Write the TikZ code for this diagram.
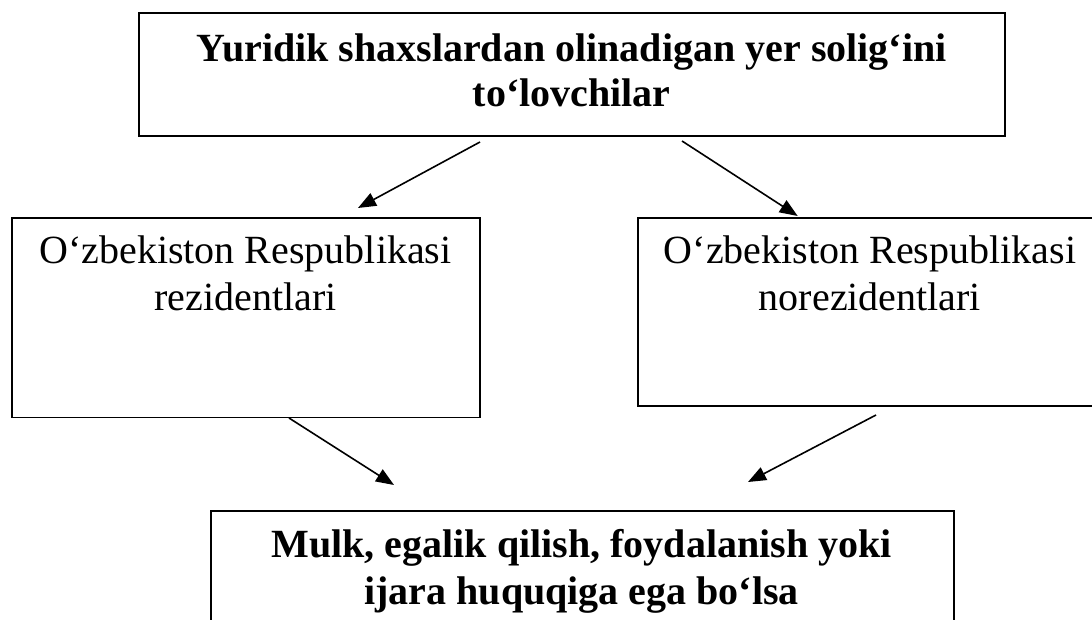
\documentclass[tikz,border=0pt]{standalone}
\usepackage{fontspec}
\setmainfont{Liberation Serif}
\usetikzlibrary{arrows.meta}
\tikzset{
  box/.style={draw=black, line width=1.7pt, rectangle, inner sep=0pt, outer sep=0pt, fill=none},
  txt/.style={anchor=base, inner sep=0pt, outer sep=0pt, font=\fontsize{40pt}{46pt}\selectfont},
  txtb/.style={txt, font=\fontsize{40pt}{46pt}\selectfont\bfseries},
  arr/.style={draw=black, line width=1.6pt, -{Triangle[length=18pt,width=14pt]}}
}
\begin{document}
\begin{tikzpicture}[x=1pt,y=-1pt]
\useasboundingbox[fill=white] (0,0) rectangle (1092,620);
% boxes
\node[box, minimum width=866pt, minimum height=123.3pt] (top) at (571.7,74.35) {};
\node[box, minimum width=468pt, minimum height=199.8pt] (left) at (245.7,317.6) {};
\node[box, minimum width=464pt, minimum height=188pt] (right) at (870,311.7) {};
\node[box, minimum width=743.3pt, minimum height=119pt] (bottom) at (582.35,570.5) {};
% texts
\node[txtb] (topa) at (571.7,62) {Yuridik shaxslardan olinadigan yer solig‘ini};
\node[txtb] (topb) at (571.7,107) {to‘lovchilar};
\node[txt] (lefta) at (245.5,264) {O‘zbekiston Respublikasi};
\node[txt] (leftb) at (245.5,310) {rezidentlari};
\node[txt] (righta) at (870,263.5) {O‘zbekiston Respublikasi};
\node[txt] (rightb) at (870,310) {norezidentlari};
\node[txtb] (bota) at (581.7,557) {Mulk, egalik qilish, foydalanish yoki};
\node[txtb] (botb) at (581.7,604) {ijara huquqiga ega bo‘lsa};
% arrow ends
\coordinate (a1s) at ([shift={(-91.7,6)}]top.south);
\coordinate (a1e) at ([shift={(112.3,-9.7)}]left.north);
\coordinate (a2s) at ([shift={(110.3,5)}]top.south);
\coordinate (a2e) at ([shift={(-72.3,-1.7)}]right.north);
\coordinate (a3s) at ([shift={(43.3,0.5)}]left.south);
\coordinate (a3e) at ([shift={(-188.35,-26)}]bottom.north);
\coordinate (a4s) at ([shift={(6,9.3)}]right.south);
\coordinate (a4e) at ([shift={(165.65,-29)}]bottom.north);
\draw[arr] (a1s) -- (a1e);
\draw[arr] (a2s) -- (a2e);
\draw[arr] (a3s) -- (a3e);
\draw[arr] (a4s) -- (a4e);
\end{tikzpicture}
\end{document}
